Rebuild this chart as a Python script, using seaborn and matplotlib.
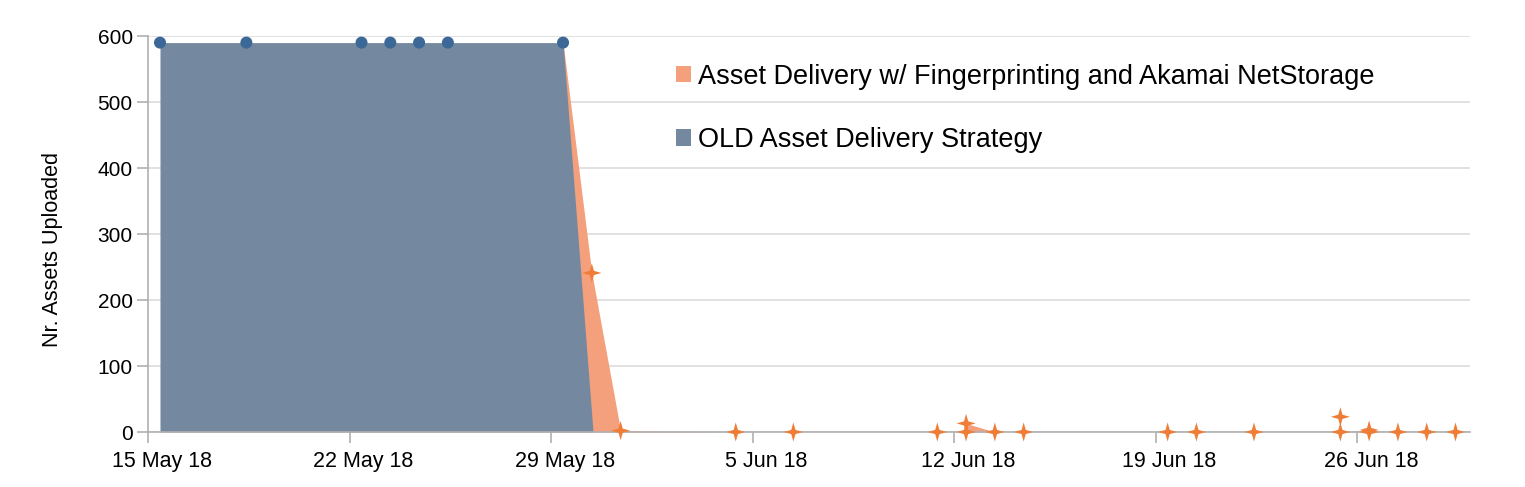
import matplotlib
matplotlib.use("Agg")
import matplotlib.pyplot as plt
import matplotlib.transforms as mtransforms
from matplotlib.patches import Patch
from matplotlib.path import Path
import seaborn as sns
import pandas as pd

# ---- data ----
old_dates = ["2018-05-15 10:00", "2018-05-18 10:00", "2018-05-22 10:00", "2018-05-23 10:00",
             "2018-05-24 10:00", "2018-05-25 10:00", "2018-05-29 10:00", "2018-05-30 11:00"]
old_values = [590, 590, 590, 590, 590, 590, 590, 0]
old_marked = [True, True, True, True, True, True, True, False]

new_dates = ["2018-05-29 10:00", "2018-05-30 10:00", "2018-05-31 10:00", "2018-06-04 10:00",
             "2018-06-06 10:00", "2018-06-11 10:00", "2018-06-12 10:00", "2018-06-12 10:01",
             "2018-06-13 10:00", "2018-06-14 10:00", "2018-06-19 10:00", "2018-06-20 10:00",
             "2018-06-22 10:00", "2018-06-25 10:00", "2018-06-25 10:01", "2018-06-26 10:00",
             "2018-06-26 10:01", "2018-06-27 10:00", "2018-06-28 10:00", "2018-06-29 10:00"]
new_values = [590, 241, 2, 0, 0, 0, 0, 13, 0, 0, 0, 0, 0, 0, 23, 3, 0, 0, 0, 0]
new_in_area = [True, True, True, True, True, True, True, True, True, True, True, True,
               True, True, False, True, True, True, True, True]
new_marked = [False] + [True] * 19

y_ticks = [0, 100, 200, 300, 400, 500, 600]
x_ticks = ["2018-05-15", "2018-05-22", "2018-05-29", "2018-06-05", "2018-06-12", "2018-06-19", "2018-06-26"]
legend_labels = ["Asset Delivery w/ Fingerprinting and Akamai NetStorage",
                 "OLD Asset Delivery Strategy"]
y_label = "Nr. Assets Uploaded"

old_df = pd.DataFrame({"date": pd.to_datetime(old_dates), "value": old_values, "marked": old_marked})
new_df = pd.DataFrame({"date": pd.to_datetime(new_dates), "value": new_values,
                       "area": new_in_area, "marked": new_marked})

# ---- style ----
sns.set_theme(style="white")
plt.rcParams["font.family"] = ["Liberation Sans", "DejaVu Sans"]
plt.rcParams["text.color"] = "black"

BLUE_FILL = "#74889f"
BLUE_PT = "#3c6898"
ORANGE_FILL = "#f4a07c"
ORANGE_PT = "#ef7d37"
GRID = "#dcdcdc"
AXIS = "#b0b0b0"

fig = plt.figure(figsize=(15.25, 4.87), dpi=100)
ax = fig.add_axes([148 / 1525, 1 - 432 / 487, (1470 - 148) / 1525, (432 - 36) / 487])

area_df = new_df[new_df["area"]]
ax.fill_between(area_df["date"], 0, area_df["value"], color=ORANGE_FILL, linewidth=0, zorder=2)
ax.fill_between(old_df["date"], 0, old_df["value"], color=BLUE_FILL, linewidth=0, zorder=3)

star = Path([(0, 1), (0.22, 0.22), (1, 0), (0.22, -0.22), (0, -1), (-0.22, -0.22), (-1, 0), (-0.22, 0.22), (0, 1)],
            [Path.MOVETO] + [Path.LINETO] * 7 + [Path.CLOSEPOLY])

sns.scatterplot(data=new_df[new_df["marked"]], x="date", y="value", ax=ax, marker=star, s=190,
                color=ORANGE_PT, edgecolor="none", linewidth=0, zorder=5, clip_on=False, legend=False)
sns.scatterplot(data=old_df[old_df["marked"]], x="date", y="value", ax=ax, marker="o", s=75,
                color=BLUE_PT, edgecolor="none", linewidth=0, zorder=6, clip_on=False, legend=False)

# axes
start = pd.Timestamp("2018-05-15")
ax.set_xlim(start, start + pd.Timedelta(days=45.92))
ax.set_ylim(0, 600)
ax.set_yticks(y_ticks)
ticks = pd.to_datetime(x_ticks)
ax.set_xticks(ticks)
ax.set_xticklabels([f"{d.day} {d.strftime('%b')} {d.strftime('%y')}" for d in ticks])

ax.yaxis.grid(True, color=GRID, linewidth=1.2, zorder=0)
ax.xaxis.grid(False)
ax.set_axisbelow(True)
for s in ["top", "right"]:
    ax.spines[s].set_visible(False)
for s in ["left", "bottom"]:
    ax.spines[s].set_color(AXIS)
    ax.spines[s].set_linewidth(1.2)
    ax.spines[s].set_zorder(4)
ax.tick_params(axis="both", which="major", length=8, width=1.2, color=AXIS, direction="out",
               labelsize=15, labelcolor="black", left=True, bottom=True)
ax.tick_params(axis="x", pad=5.5, labelsize=15.5)
ax.tick_params(axis="y", pad=3)

# labels are centred half a day to the right of the tick, as in the reference
shift = mtransforms.ScaledTranslation(14 / 100, 0, fig.dpi_scale_trans)
for lbl in ax.get_xticklabels():
    lbl.set_transform(lbl.get_transform() + shift)

ax.set_xlabel("")
ax.set_ylabel(y_label, fontsize=15.5, color="black")
ax.yaxis.set_label_coords(-0.064, 0.46)

handles = [Patch(facecolor=ORANGE_FILL, edgecolor="none"), Patch(facecolor=BLUE_FILL, edgecolor="none")]
ax.legend(handles, legend_labels, loc="upper left", bbox_to_anchor=(0.3994, 0.93), frameon=False,
          fontsize=19.5, handlelength=0.55, handleheight=0.55, handletextpad=0.28, labelspacing=1.38,
          borderaxespad=0, borderpad=0, labelcolor="black")

fig.savefig("out.png", dpi=100)
